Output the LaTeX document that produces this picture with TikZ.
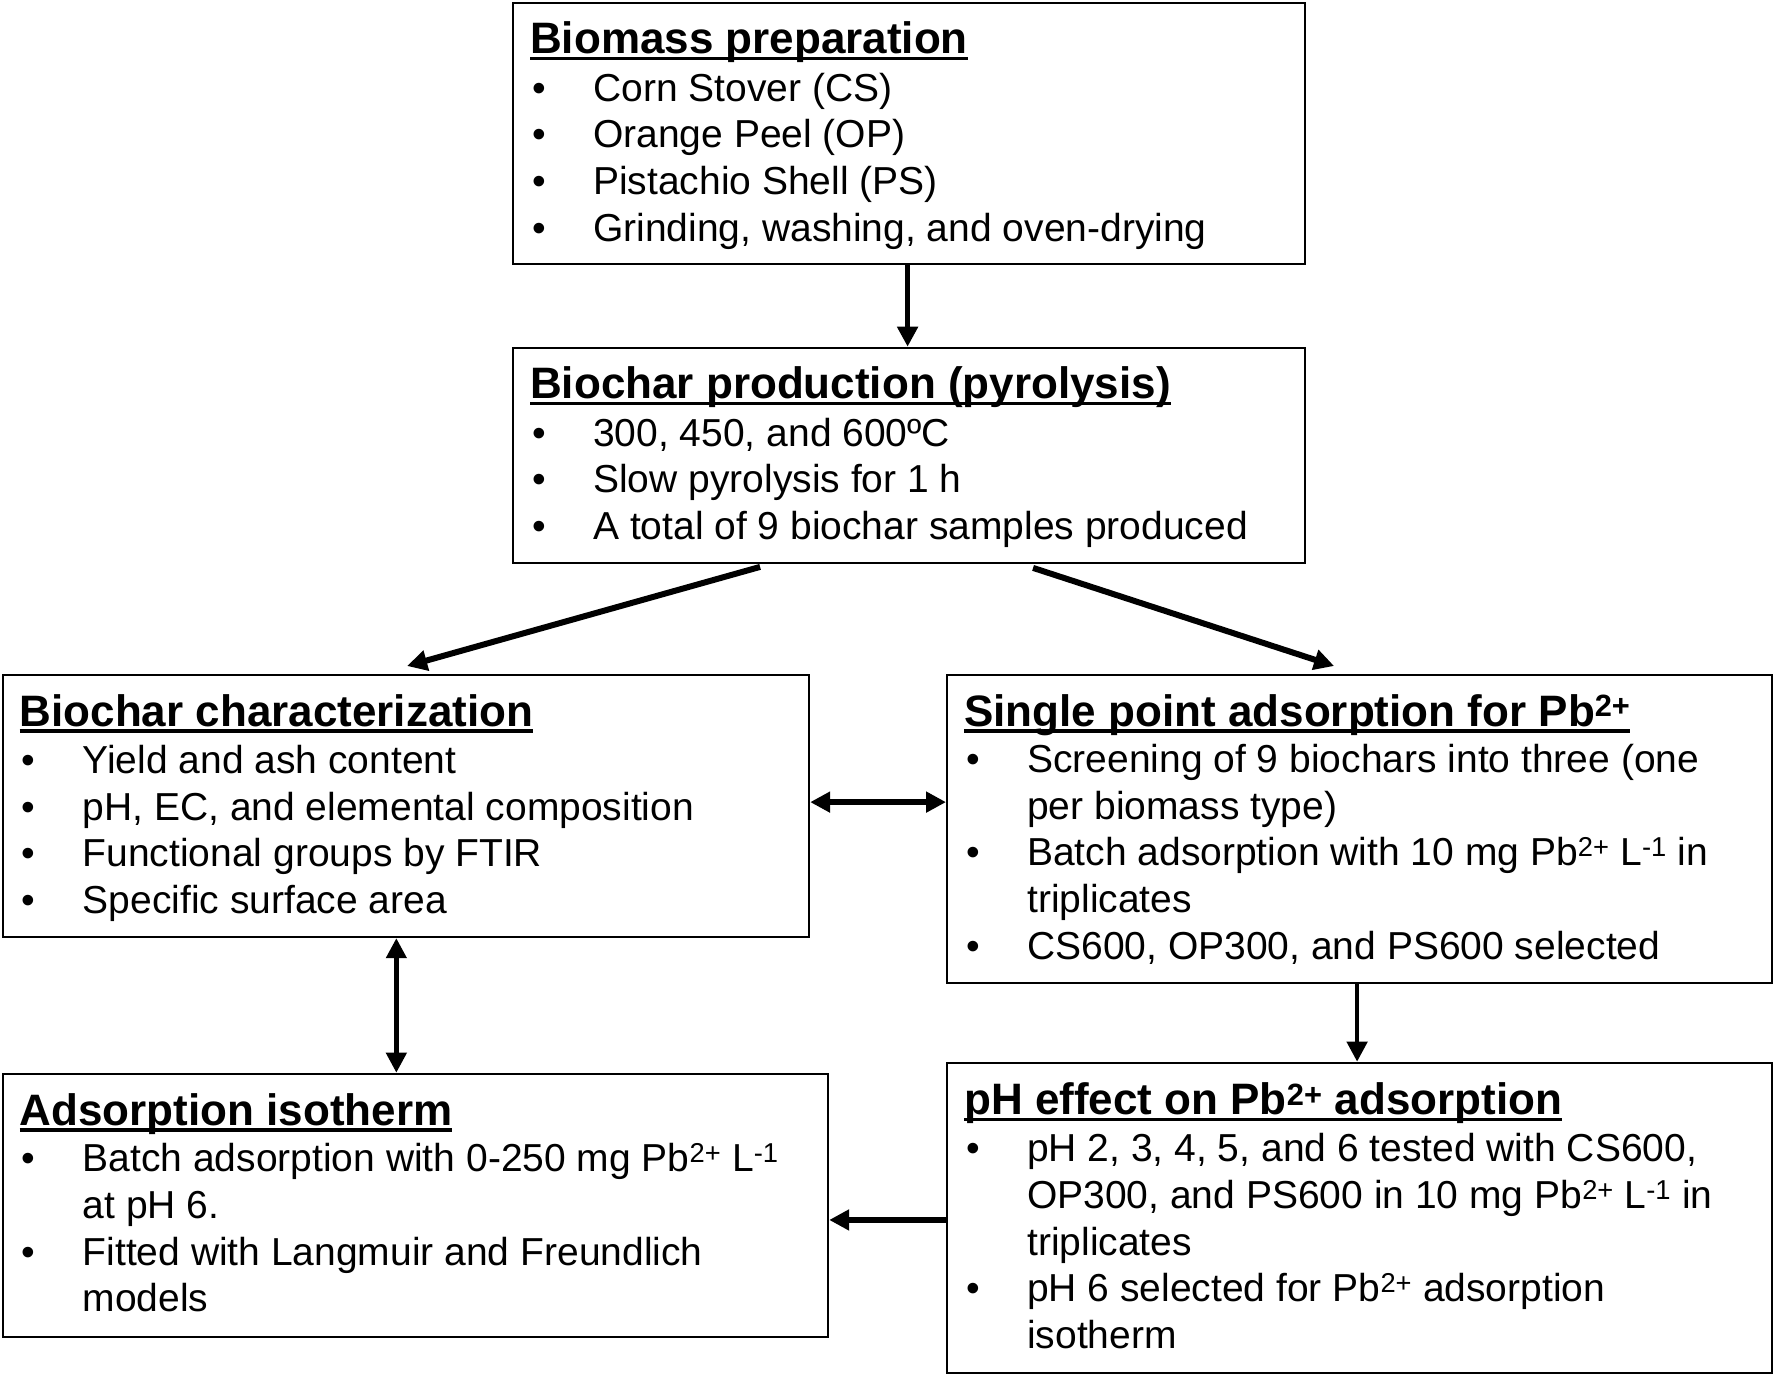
\documentclass[tikz,border=0pt]{standalone}
\usepackage{fontspec}
\setmainfont{Liberation Sans}
\usetikzlibrary{arrows.meta}
\newsavebox\myulbox
\newcommand\myul[1]{\sbox\myulbox{#1}\rlap{\rule[-6.5pt]{\wd\myulbox}{3.2pt}}\usebox\myulbox}
\newcommand\bu{\makebox[61pt][l]{•}}
\newcommand\ind{\hspace*{61pt}}
\newcommand\sps[1]{\textsuperscript{#1}}
\tikzset{
  box/.style={draw, line width=2.2pt, inner sep=0pt, anchor=north west},
  ttl/.style={anchor=base west, inner sep=0pt, font=\fontsize{44}{52}\selectfont\bfseries},
  bdy/.style={anchor=base west, inner sep=0pt, font=\fontsize{39}{46.7}\selectfont},
  tip/.tip={Triangle[length=20pt,width=20pt]},
  arr/.style={-tip, line width=6pt},
  darr/.style={tip-tip, line width=6pt},
}
\begin{document}
\begin{tikzpicture}[x=1pt,y=1pt]
\useasboundingbox[fill=white] (0,0) rectangle (1773,-1374);
% boxes
\node[box, minimum width=792pt, minimum height=261.2pt] (b1) at (512,-1.5) {};
\node[box, minimum width=792pt, minimum height=215pt] (b2) at (512,-346.7) {};
\node[box, minimum width=806.5pt, minimum height=262pt] (b3) at (1.5,-674) {};
\node[box, minimum width=825pt, minimum height=307.7pt] (b4) at (946,-674) {};
\node[box, minimum width=825pt, minimum height=310.3pt] (b5) at (946,-1061.7) {};
\node[box, minimum width=825.5pt, minimum height=263.3pt] (b6) at (1.5,-1072.7) {};
% texts
\node[ttl] (t1) at (530,-53.5) {\myul{Biomass preparation}};
\node[bdy] (x1) at (532,-101) {\parbox[t]{780pt}{\bu Corn Stover (CS)\\ \bu Orange Peel (OP)\\ \bu Pistachio Shell (PS)\\ \bu Grinding, washing, and oven-drying}};
\node[ttl] (t2) at (530,-398.7) {\myul{Biochar production (pyrolysis)}};
\node[bdy] (x2) at (532,-446.2) {\parbox[t]{780pt}{\bu 300, 450, and 600ºC\\ \bu Slow pyrolysis for 1 h\\ \bu A total of 9 biochar samples produced}};
\node[ttl] (t3) at (19.5,-726) {\myul{Biochar characterization}};
\node[bdy] (x3) at (21.5,-773.5) {\parbox[t]{780pt}{\bu Yield and ash content\\ \bu pH, EC, and elemental composition\\ \bu Functional groups by FTIR\\ \bu Specific surface area}};
\node[ttl] (t4) at (964,-726) {\myul{Single point adsorption for Pb\sps{2+}}};
\node[bdy] (x4) at (966,-772.5) {\parbox[t]{800pt}{\bu Screening of 9 biochars into three (one\\ \ind per biomass type)\\ \bu Batch adsorption with 10 mg Pb\sps{2+} L\sps{-1} in\\ \ind triplicates\\ \bu CS600, OP300, and PS600 selected}};
\node[ttl] (t5) at (964,-1114.7) {\myul{pH effect on Pb\sps{2+} adsorption}};
\node[bdy] (x5) at (966,-1161.7) {\parbox[t]{800pt}{\bu pH 2, 3, 4, 5, and 6 tested with CS600,\\ \ind OP300, and PS600 in 10 mg Pb\sps{2+} L\sps{-1} in\\ \ind triplicates\\ \bu pH 6 selected for Pb\sps{2+} adsorption\\ \ind isotherm}};
\node[ttl] (t6) at (19.5,-1125) {\myul{Adsorption isotherm}};
\node[bdy] (x6) at (21.5,-1171.7) {\parbox[t]{800pt}{\bu Batch adsorption with 0-250 mg Pb\sps{2+} L\sps{-1}\\ \ind at pH 6.\\ \bu Fitted with Langmuir and Freundlich\\ \ind models}};
% connectors
\draw[arr, line width=5pt] ([xshift=-1.5pt]b1.south) -- ([xshift=-1.5pt]b2.north);
\draw[arr] ([shift={(-149pt,-3pt)}]b2.south) -- ([shift={(1.25pt,8pt)}]b3.north);
\draw[arr] ([shift={(124pt,-4pt)}]b2.south) -- ([shift={(-25.5pt,8pt)}]b4.north);
\draw[darr, line width=6.5pt] ([yshift=4pt]b3.east) -- ([yshift=4pt]b3.east -| b4.west);
\draw[darr, line width=4.5pt] ([xshift=-9.5pt]b3.south) -- ([xshift=-9.5pt]b3.south |- b6.north);
\draw[arr, line width=4.5pt] ([xshift=-2.5pt]b4.south) -- ([xshift=-2.5pt]b5.north);
\draw[arr, line width=6.5pt] ([yshift=-2pt]b5.west) -- ([yshift=-2pt]b5.west -| b6.east);
\end{tikzpicture}
\end{document}
